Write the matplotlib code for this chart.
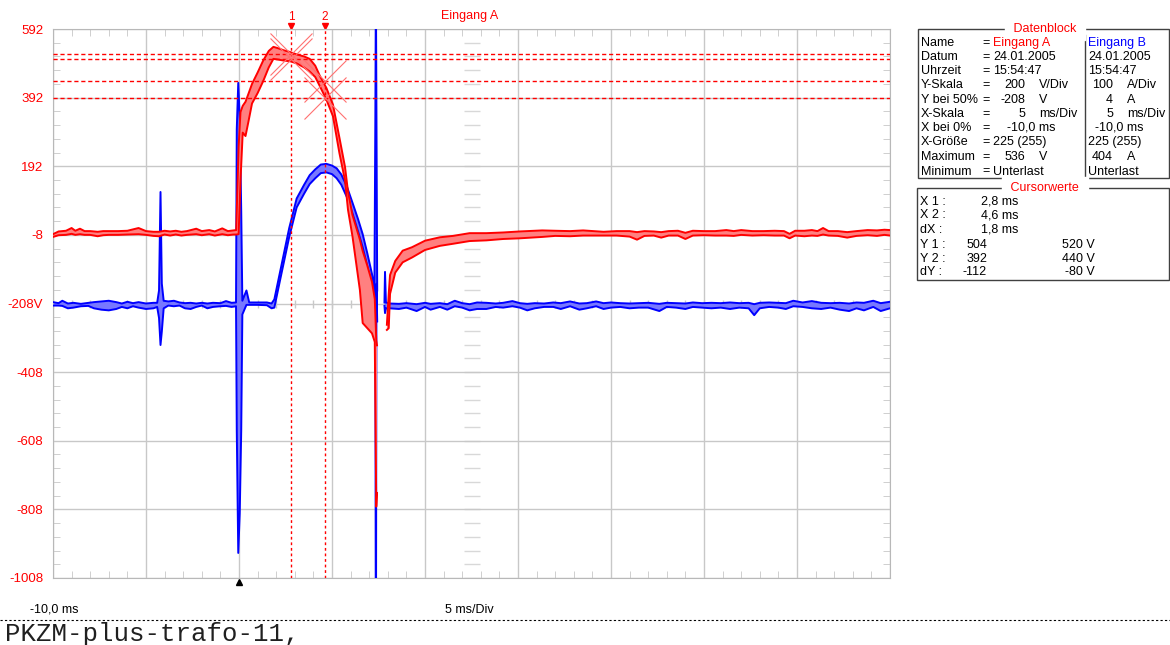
import numpy as np
import matplotlib
matplotlib.use("Agg")
from matplotlib import pyplot as plt
from matplotlib.ticker import MultipleLocator, FixedLocator
from matplotlib.patches import Rectangle
from matplotlib.lines import Line2D
import matplotlib.transforms as mtrans

W, H = 1170, 645
nan = np.nan

# Eingang A (rot): Zeit in ms, obere / untere Kante des Bandes in V
t_a = [-10.0, -9.7, -9.3, -9.0, -8.8, -8.55, -8.3, -8.0, -7.6, -7.3, -7.0, -6.5, -6.0, -5.4, -5.0,
       -4.6, -4.3, -4.0, -3.7, -3.4, -3.1, -2.8, -2.3, -2.0, -1.6, -1.3, -0.9, -0.6, -0.3, -0.15,
       -0.02, 0.08, 0.2, 0.35, 0.5, 0.7, 1.0, 1.3, 1.6, 1.85, 2.1, 2.4, 2.74, 3.1, 3.5, 3.8, 4.1,
       4.35, 4.7, 5.05, 5.4, 5.7, 5.86, 6.1, 6.5, 6.65, 6.9, 7.15, 7.3, 7.38, 7.42, 7.6,
       7.95, 8.05, 8.12, 8.4, 8.8, 9.3, 10.0, 10.8, 11.5, 12.4, 13.3, 14.2, 15.1, 16.3, 17.0,
       17.8, 18.5, 19.6, 20.3, 21.0, 21.4, 21.8, 22.3, 22.7, 23.1, 23.6, 24.0, 24.4, 25.0, 25.6,
       26.2, 26.6, 27.0, 27.6, 28.2, 28.8, 29.3, 29.6, 29.9, 30.4, 30.8, 31.1, 31.4, 31.7, 32.2,
       32.7, 33.2, 33.8, 34.3, 34.7, 35.0]
a_hi = [-6, 2, 4, 12, 4, 10, 3, 3, 1, 3, 3, 3, 4, 12, 3,
        1, 1, 4, 2, 4, 1, 3, 10, 3, 6, 2, 11, 3, 5, 6,
        250, 350, 368, 380, 402, 432, 465, 500, 528, 540, 536, 530, 525, 518, 512, 505, 485,
        455, 420, 372, 275, 190, 118, 50, -22, -55, -98, -145, -195, -315, -330, nan,
        -270, -180, -125, -84, -54, -44, -25, -15, -11, -3, -3, -1, 2, 5, 4,
        3, 5, 1, 3, 3, 0, 3, 2, 0, 3, 4, -2, 4, 3, 3,
        6, 3, 6, 3, 3, 4, 3, -5, 4, 4, 6, 3, 12, 3, 3,
        0, 3, 6, 5, 7, 6]
a_lo = [-14, -9, -8, -5, -8, -6, -8, -8, -12, -9, -8, -8, -7, -6, -8,
        -11, -12, -7, -10, -7, -10, -8, -6, -9, -6, -10, -6, -9, -7, -7,
        -6, 150, 290, 280, 320, 375, 405, 440, 480, 505, 503, 500, 498, 492, 480, 468, 452,
        425, 386, 338, 230, 150, 65, -12, -169, -265, -280, -295, -320, -800, -760, nan,
        -285, -280, -180, -118, -88, -74, -52, -40, -34, -26, -24, -20, -18, -14, -11,
        -12, -10, -10, -10, -13, -22, -11, -10, -16, -10, -10, -20, -10, -9, -10,
        -10, -11, -8, -10, -9, -10, -10, -18, -10, -12, -10, -11, -7, -10, -11,
        -16, -11, -9, -11, -8, -10]

# Eingang B (blau)
t_b = [-10.0, -9.7, -9.5, -9.2, -8.9, -8.5, -8.1, -7.8, -7.4, -7.0, -6.6, -6.3, -6.0, -5.7, -5.4,
       -5.0, -4.6, -4.4, -4.3, -4.22, -4.15, -4.05, -3.8, -3.5, -3.2, -2.9, -2.6, -2.3, -2.0, -1.7,
       -1.4, -1.0, -0.7, -0.4, -0.16, -0.12, -0.04, 0.04, 0.12, 0.18, 0.4, 0.55, 1.0, 1.5, 1.75,
       1.9, 2.2, 2.7, 3.1, 3.5, 3.8, 4.1, 4.4, 4.7, 5.0, 5.25, 5.5, 5.8, 6.1, 6.4, 6.65, 6.9,
       7.15, 7.28, 7.33, 7.35, 7.37, 7.39, 7.43, 7.6,
       7.82, 7.85, 7.9, 8.1, 8.6, 9.0, 9.55, 10.0, 10.3, 10.8, 11.2, 11.6, 12.0, 12.4, 12.8,
       13.3, 13.8, 14.2, 14.7, 15.1, 15.5, 15.9, 16.4, 16.9, 17.3, 17.8, 18.3, 18.7, 19.2, 19.6,
       20.0, 20.5, 21.0, 21.5, 22.0, 22.6, 23.0, 23.5, 24.0, 24.4, 24.9, 25.4, 25.9, 26.4, 26.9,
       27.4, 27.7, 28.0, 28.5, 29.0, 29.4, 29.8, 30.3, 30.8, 31.3, 31.8, 32.3, 32.8, 33.2, 33.6,
       34.1, 34.5, 35.0]
b_hi = [-204, -207, -200, -208, -206, -209, -206, -204, -202, -200, -204, -208, -203, -207, -204,
        -208, -206, -206, -170, 117, -150, -200, -202, -200, -205, -207, -206, -208, -206, -208,
        -206, -207, -201, -206, -205, 300, 435, 330, 60, -200, -170, -205, -205, -205, -208,
        -196, -118, 12, 98, 138, 166, 183, 197, 199, 194, 186, 168, 133, 86, 38, -6, -62,
        -122, -165, 330, 592, 592, 320, -170, nan,
        -205, -116, -205, -208, -209, -207, -210, -206, -209, -207, -210, -200, -207, -210, -205,
        -206, -208, -206, -201, -207, -209, -207, -208, -205, -207, -202, -208, -207, -202, -207,
        -205, -207, -208, -207, -206, -209, -206, -207, -208, -205, -207, -206, -207, -205, -207,
        -206, -210, -206, -205, -206, -207, -200, -205, -201, -206, -207, -206, -208, -205, -206,
        -200, -207, -203]
b_lo = [-214, -214, -215, -222, -220, -216, -215, -222, -226, -228, -224, -218, -222, -216, -220,
        -224, -222, -218, -250, -329, -290, -222, -214, -216, -214, -222, -224, -218, -214, -222,
        -218, -216, -215, -218, -216, -577, -935, -820, -577, -240, -212, -212, -212, -213, -222,
        -220, -142, -14, 72, 112, 140, 157, 172, 174, 169, 157, 138, 102, 55, 2, -44, -100,
        -155, -195, -160, -1008, -1008, -150, -260, nan,
        -215, -236, -222, -222, -224, -220, -230, -218, -226, -218, -226, -216, -220, -228, -224,
        -224, -218, -220, -216, -220, -228, -222, -218, -218, -224, -216, -226, -222, -216, -224,
        -220, -218, -222, -220, -220, -230, -218, -220, -224, -218, -220, -222, -220, -224, -220,
        -222, -242, -222, -218, -220, -224, -216, -218, -222, -224, -220, -226, -230, -222, -228,
        -218, -230, -222]

# Cursor
x_cursor = [2.8, 4.6]
y_cursor = [520, 504, 440, 392]
y_ticks = [592, 392, 192, -8, -208, -408, -608, -808, -1008]
y_labels = ["592", "392", "192", "-8", "-208V", "-408", "-608", "-808", "-1008"]

RED, BLUE = "#ff0000", "#0000ff"
RED_F, BLUE_F = "#ff8080", "#7878ff"
GRID = "#c8c8c8"
SANS = ["Liberation Sans", "DejaVu Sans"]


def px(x, y):
    return x / W, 1 - y / H


fig = plt.figure(figsize=(W / 100, H / 100), dpi=100)
ax = fig.add_axes([53 / W, 1 - 578 / H, (890 - 53) / W, (578 - 29) / H])
ax.set_xlim(-10, 35)
ax.set_ylim(-1008, 592)

# Raster
ax.set_xticks(np.arange(-10, 36, 5))
ax.set_yticks(y_ticks)
ax.set_yticklabels(y_labels, family=SANS)
ax.xaxis.set_minor_locator(MultipleLocator(1))
ax.yaxis.set_minor_locator(FixedLocator(np.arange(-1008, 593, 40)))
ax.grid(True, which="major", color=GRID, lw=1, zorder=0)
ax.tick_params(which="major", length=0, labelbottom=False, labelcolor=RED,
               labelsize=9.5, pad=7)
ax.tick_params(which="minor", direction="in", length=5, color=GRID,
               top=True, right=True, bottom=True, left=True)
for s in ax.spines.values():
    s.set_color("#b8b8b8")

# Achsenkreuz in der Mitte
ax.plot(np.arange(-10, 36, 1), [-208] * 46, ls="none", marker="|", ms=6,
        color=GRID, zorder=1)
ax.plot([12.5] * 41, np.arange(-1008, 593, 40), ls="none", marker="_", ms=12,
        color="#d8d8d8", zorder=1)

# Kurven
ax.fill_between(t_b, b_lo, b_hi, color=BLUE_F, lw=0, zorder=2)
ax.plot(t_b, b_hi, color=BLUE, lw=1.4, zorder=3)
ax.plot(t_b, b_lo, color=BLUE, lw=1.4, zorder=3)
ax.fill_between(t_a, a_lo, a_hi, color=RED_F, lw=0, zorder=4)
ax.plot(t_a, a_hi, color=RED, lw=1.4, zorder=5)
ax.plot(t_a, a_lo, color=RED, lw=1.4, zorder=5)

# Cursorlinien
for xc in x_cursor:
    ax.axvline(xc, color=RED, lw=1, ls=(0, (2, 2)), zorder=6)
for yc in y_cursor:
    ax.axhline(yc, color=RED, lw=1, ls=(0, (3, 2)), zorder=6)
ax.plot([x_cursor[0], x_cursor[0], x_cursor[1], x_cursor[1]], y_cursor, ls="none",
        marker="x", ms=30, mew=0.8, color="#ff7070", zorder=7)

up = mtrans.offset_copy(ax.transData, fig=fig, x=0, y=3, units="dots")
for i, xc in enumerate(x_cursor):
    ax.plot(xc, 592, marker="v", ms=4, color=RED, transform=up, clip_on=False)
    ax.annotate(str(i + 1), (xc, 592), xytext=(0, 9), textcoords="offset points",
                ha="center", va="center", color=RED, fontsize=8.5, family=SANS,
                annotation_clip=False)
down = mtrans.offset_copy(ax.transData, fig=fig, x=0, y=-4, units="dots")
ax.plot(0, -1008, marker="^", ms=4, color="black", transform=down, clip_on=False)

fig.text(*px(470, 16), "Eingang A", color=RED, fontsize=9, ha="center", va="center",
         family=SANS)

# Datenblock
fs = 9
kw = dict(fontsize=fs, va="center", family=SANS)
fig.add_artist(Rectangle(px(918, 178), (1169 - 918) / W, (178 - 29) / H,
                         transform=fig.transFigure, fill=False, ec="#404040", lw=1))
fig.add_artist(Line2D([1085 / W] * 2, [1 - 35 / H, 1 - 178 / H],
                      transform=fig.transFigure, color="#404040", lw=1))
fig.text(*px(1045, 29), " Datenblock ", color=RED, ha="center",
         backgroundcolor="white", **kw)
rows = [43, 57, 71, 85.5, 100, 114, 128, 142.5, 157, 171.5]
names = ["Name", "Datum", "Uhrzeit", "Y-Skala", "Y bei 50%", "X-Skala", "X bei 0%",
         "X-Größe", "Maximum", "Minimum"]
for y, n in zip(rows, names):
    fig.text(*px(921, y), n, **kw)
    fig.text(*px(982, y), "=", **kw)

left_a = {0: ("Eingang A", RED), 1: ("24.01.2005", "black"), 2: ("15:54:47", "black"),
          7: ("225 (255)", "black"), 9: ("Unterlast", "black")}
left_b = {0: ("Eingang B", BLUE), 1: ("24.01.2005", "black"), 2: ("15:54:47", "black"),
          7: ("225 (255)", "black"), 9: ("Unterlast", "black")}
for i, (s, c) in left_a.items():
    fig.text(*px(993, rows[i]), s, color=c, **kw)
for i, (s, c) in left_b.items():
    fig.text(*px(1088, rows[i]), s, color=c, **kw)

num_a = {3: ("200", "V/Div"), 4: ("-208", "V"), 5: ("5", "ms/Div"), 8: ("536", "V")}
num_b = {3: ("100", "A/Div"), 4: ("4", "A"), 5: ("5", "ms/Div"), 8: ("404", "A")}
for i, (v, u) in num_a.items():
    fig.text(*px(1025, rows[i]), v, ha="right", **kw)
    fig.text(*px(1039, rows[i]), u, **kw)
for i, (v, u) in num_b.items():
    fig.text(*px(1113, rows[i]), v, ha="right", **kw)
    fig.text(*px(1127, rows[i]), u, **kw)
fig.text(*px(1007, rows[6]), "-10,0 ms", **kw)
fig.text(*px(1095, rows[6]), "-10,0 ms", **kw)

# Cursorwerte
fig.add_artist(Rectangle(px(917, 280), (1169 - 917) / W, (280 - 188) / H,
                         transform=fig.transFigure, fill=False, ec="#404040", lw=1))
fig.text(*px(1045, 188), " Cursorwerte ", color=RED, ha="center",
         backgroundcolor="white", **kw)
crow = [202, 215.5, 230, 245, 258.5, 272]
clab = ["X 1 :", "X 2 :", "dX :", "Y 1 :", "Y 2 :", "dY :"]
for y, s in zip(crow, clab):
    fig.text(*px(920, y), s, **kw)
for y, s in zip(crow[:3], ["2,8 ms", "4,6 ms", "1,8 ms"]):
    fig.text(*px(981, y), s, **kw)
for y, s1, s2 in zip(crow[3:], ["504", "392", "-112"], ["520 V", "440 V", "-80 V"]):
    fig.text(*px(987, y), s1, ha="right", **kw)
    fig.text(*px(1095, y), s2, ha="right", **kw)

# Fusszeile
fig.text(*px(30, 610), "-10,0 ms", **kw)
fig.text(*px(445, 610), "5 ms/Div", **kw)
fig.add_artist(Line2D([0, 1], [1 - 620 / H] * 2, transform=fig.transFigure,
                      color="black", lw=0.8, ls=(0, (2, 2))))
fig.text(*px(5, 634), "PKZM-plus-trafo-11,", fontsize=18.5, va="center",
         family="Liberation Mono", color="#202020")

fig.savefig("out.png", dpi=100)
